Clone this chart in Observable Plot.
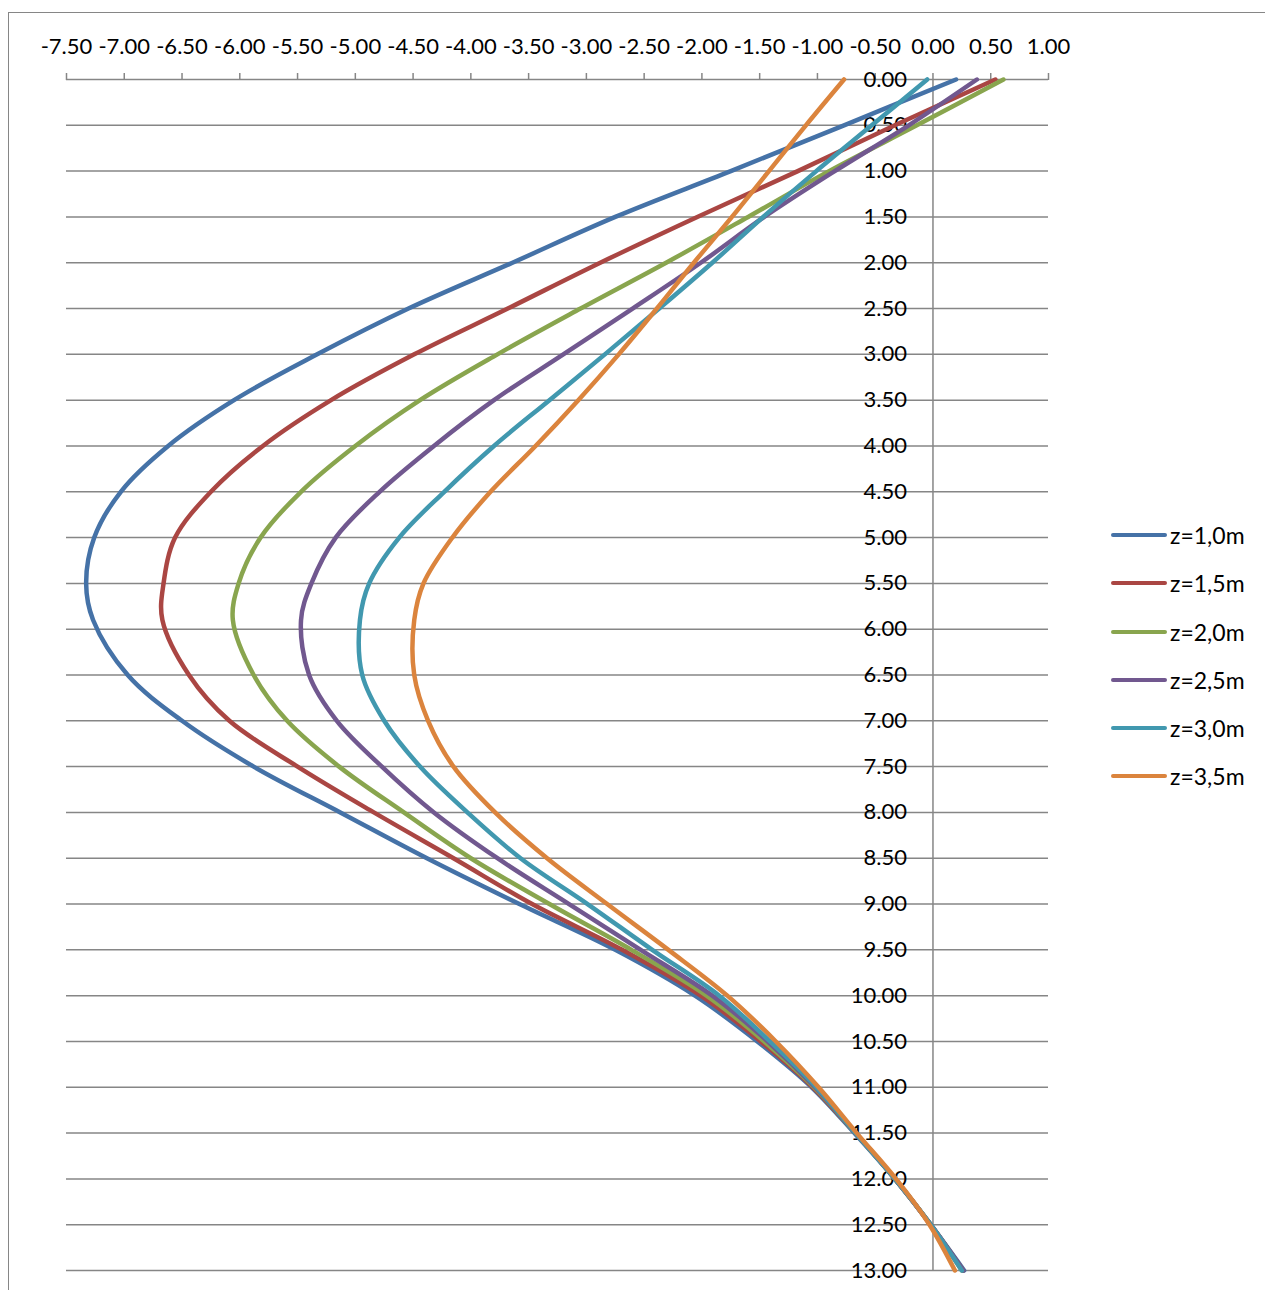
<!DOCTYPE html>
<html><head><meta charset="utf-8">
<script src="https://cdn.jsdelivr.net/npm/d3@7"></script>
<script src="https://cdn.jsdelivr.net/npm/@observablehq/plot@0.6"></script>
<style>
html,body{margin:0;padding:0;background:#fff;overflow:hidden;width:1265px;height:1290px;}
#wrap{position:relative;width:1265px;height:1290px;font-family:Lato,"Open Sans",sans-serif;}
#frame{position:absolute;left:8px;top:12px;width:1400px;height:1400px;border:1.5px solid #868686;box-sizing:border-box;}
#chart{position:absolute;left:0;top:0;}
#legend{position:absolute;left:1111px;top:0;}
.item{position:absolute;left:0;height:30px;display:flex;align-items:center;white-space:nowrap;font-size:23px;color:#000;}
.swatch{width:56px;height:4.5px;border-radius:2px;margin-right:3px;}
</style></head><body><div id="wrap"><div id="frame"></div><div id="chart"></div><div id="legend"></div></div>
<script>
const depths = [0,0.5,1,1.5,2,2.5,3,3.5,4,4.5,5,5.5,5.9,6.5,7,7.5,8,8.5,9,9.5,10,10.5,11,11.5,12,12.5,13];
const seriesNames = ["z=1,0m","z=1,5m","z=2,0m","z=2,5m","z=3,0m","z=3,5m"];
const seriesColors = ["#4572A7","#AA4643","#89A54E","#71588F","#4198AF","#DB843D"];
const z10 = [0.20,-0.77,-1.75,-2.75,-3.64,-4.54,-5.33,-6.05,-6.62,-7.03,-7.26,-7.33,-7.27,-6.97,-6.50,-5.88,-5.13,-4.38,-3.58,-2.75,-2.06,-1.52,-1.05,-0.68,-0.33,-0.02,0.27];
const z15 = [0.54,-0.33,-1.17,-2.04,-2.88,-3.68,-4.49,-5.21,-5.80,-6.25,-6.56,-6.66,-6.67,-6.44,-6.09,-5.50,-4.84,-4.15,-3.47,-2.69,-2.01,-1.49,-1.04,-0.67,-0.33,-0.02,0.26];
const z20 = [0.61,-0.14,-0.90,-1.60,-2.31,-3.05,-3.77,-4.44,-5.00,-5.47,-5.82,-6.01,-6.06,-5.88,-5.59,-5.14,-4.58,-4.00,-3.32,-2.61,-1.96,-1.46,-1.03,-0.67,-0.33,-0.02,0.25];
const z25 = [0.38,-0.21,-0.85,-1.46,-2.01,-2.60,-3.20,-3.80,-4.32,-4.79,-5.17,-5.38,-5.47,-5.40,-5.16,-4.77,-4.32,-3.77,-3.15,-2.53,-1.91,-1.43,-1.02,-0.67,-0.33,-0.02,0.26];
const z30 = [-0.05,-0.53,-1.01,-1.47,-1.91,-2.37,-2.84,-3.32,-3.80,-4.23,-4.62,-4.88,-4.96,-4.94,-4.75,-4.44,-4.03,-3.57,-2.99,-2.43,-1.85,-1.41,-1.01,-0.67,-0.33,-0.02,0.25];
const z35 = [-0.77,-1.10,-1.42,-1.74,-2.07,-2.39,-2.72,-3.07,-3.44,-3.83,-4.16,-4.41,-4.49,-4.49,-4.37,-4.15,-3.79,-3.34,-2.82,-2.29,-1.78,-1.36,-0.99,-0.66,-0.32,-0.03,0.19];
const xTicks = [-7.5,-7,-6.5,-6,-5.5,-5,-4.5,-4,-3.5,-3,-2.5,-2,-1.5,-1,-0.5,0,0.5,1];
const yTicks = [0,0.5,1,1.5,2,2.5,3,3.5,4,4.5,5,5.5,6,6.5,7,7.5,8,8.5,9,9.5,10,10.5,11,11.5,12,12.5,13];

const seriesValues = [z10,z15,z20,z25,z30,z35];
const rows = [];
seriesValues.forEach((vals,i)=>vals.forEach((v,j)=>rows.push({depth:depths[j], value:v, series:seriesNames[i]})));

const fmt = d => d.toFixed(2);
const chart = Plot.plot({
  width:1265, height:1290,
  marginLeft:66, marginRight:217, marginTop:79, marginBottom:20,
  x:{domain:[-7.5,1], label:null},
  y:{domain:[0,13], reverse:true, axis:null, label:null},
  color:{domain:seriesNames, range:seriesColors},
  style:{fontFamily:"Lato, 'Open Sans', sans-serif", fontSize:"22px", background:"transparent", overflow:"visible", color:"#000"},
  marks:[
    Plot.ruleY(yTicks,{y:d=>d, x1:-7.5, x2:1, stroke:"#868686", strokeWidth:1.5}),
    Plot.ruleX([0],{y1:0, y2:13, stroke:"#868686", strokeWidth:1.5}),
    Plot.axisX(xTicks,{anchor:"top", tickSize:7, tickPadding:19, tickFormat:fmt, stroke:"#868686", strokeWidth:1.5, fill:"#000", fontSize:22, label:null}),
    Plot.text(yTicks,{x:0, y:d=>d, text:fmt, textAnchor:"end", dx:-26, fontSize:22, fill:"#000"}),
    Plot.line(rows,{x:"value", y:"depth", z:"series", stroke:"series", strokeWidth:4.5, strokeLinejoin:"round", curve:"catmull-rom"})
  ]
});
document.getElementById("chart").appendChild(chart);

const legend = document.getElementById("legend");
const centers = [535,583,632,680,728,776];
seriesNames.forEach((n,i)=>{
  const it = document.createElement("div");
  it.className = "item";
  it.style.top = (centers[i]-15)+"px";
  it.innerHTML = `<span class="swatch" style="background:${seriesColors[i]}"></span><span>${n}</span>`;
  legend.appendChild(it);
});
</script></body></html>
